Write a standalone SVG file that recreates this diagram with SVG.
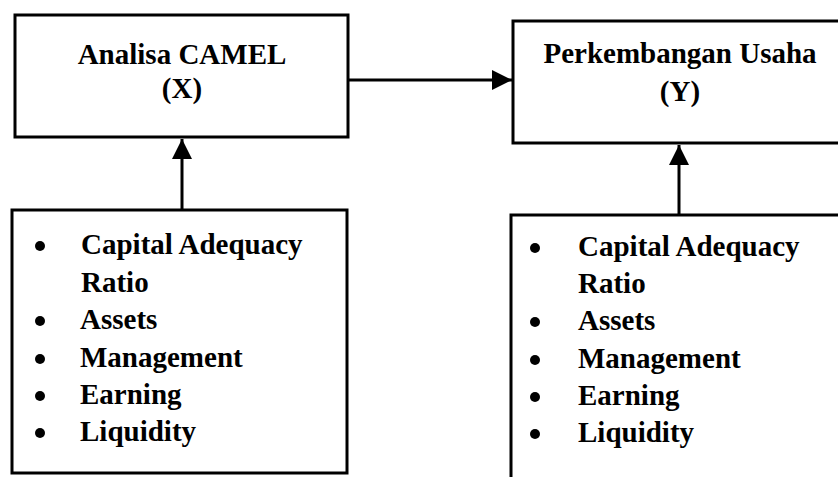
<svg xmlns="http://www.w3.org/2000/svg" width="838" height="477" viewBox="0 0 838 477">
<defs>
<style>
.box{fill:#fff;stroke:#000;stroke-width:3}
.t{font-family:"Liberation Serif","Times New Roman",serif;font-weight:bold;font-size:29px;fill:#000}
.c{text-anchor:middle}
.ln{stroke:#000;stroke-width:3;fill:none}
</style>
<marker id="ah" viewBox="0 0 20 20" refX="20" refY="10" markerWidth="20" markerHeight="20" markerUnits="userSpaceOnUse" orient="auto">
<path d="M0,0 L20,10 L0,20 Z" fill="#000"/>
</marker>
</defs>
<rect width="838" height="477" fill="#fff"/>
<g id="node-x">
<rect class="box" x="15" y="15" width="333" height="122"/>
<text class="t c" x="182" y="64">Analisa CAMEL</text>
<text class="t c" x="182" y="98">(X)</text>
</g>
<g id="node-y">
<rect class="box" x="513" y="21" width="334" height="122"/>
<text class="t c" x="680" y="63">Perkembangan Usaha</text>
<text class="t c" x="680" y="101">(Y)</text>
</g>
<g id="list-x">
<rect class="box" x="12" y="210" width="335" height="263"/>
<g fill="#000">
<circle cx="40" cy="246" r="5"/>
<circle cx="40" cy="321" r="5"/>
<circle cx="40" cy="359" r="5"/>
<circle cx="40" cy="396" r="5"/>
<circle cx="40" cy="433" r="5"/>
</g>
<text class="t" x="81" y="254">Capital Adequacy</text>
<text class="t" x="81" y="292">Ratio</text>
<text class="t" x="80" y="329">Assets</text>
<text class="t" x="80" y="367">Management</text>
<text class="t" x="80" y="404">Earning</text>
<text class="t" x="80" y="441">Liquidity</text>
</g>
<g id="list-y">
<rect class="box" x="511" y="215" width="340" height="270"/>
<g fill="#000">
<circle cx="535" cy="248" r="5"/>
<circle cx="535" cy="322" r="5"/>
<circle cx="535" cy="360" r="5"/>
<circle cx="535" cy="397" r="5"/>
<circle cx="535" cy="434" r="5"/>
</g>
<text class="t" x="578" y="256">Capital Adequacy</text>
<text class="t" x="578" y="293">Ratio</text>
<text class="t" x="578" y="330">Assets</text>
<text class="t" x="578" y="368">Management</text>
<text class="t" x="578" y="405">Earning</text>
<text class="t" x="578" y="442">Liquidity</text>
</g>
<g id="connectors">
<line class="ln" x1="348" y1="80" x2="512" y2="80" marker-end="url(#ah)"/>
<line class="ln" x1="182" y1="210" x2="182" y2="139" marker-end="url(#ah)"/>
<line class="ln" x1="679" y1="215" x2="679" y2="145" marker-end="url(#ah)"/>
</g>
</svg>
